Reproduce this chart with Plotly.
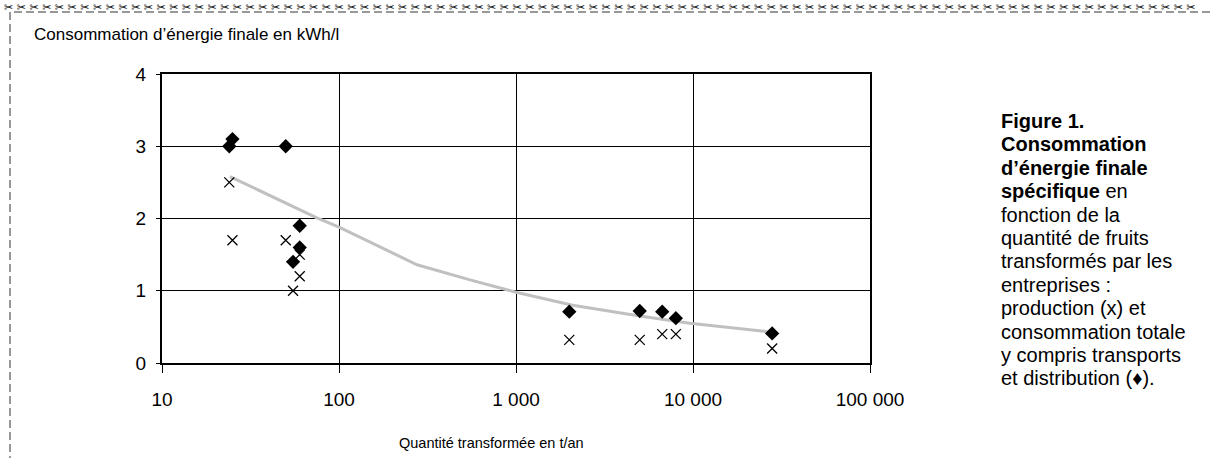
import plotly.graph_objects as go

# Data
total_x = [24, 25, 50, 60, 60, 55, 2000, 5000, 6700, 8000, 28000]
total_y = [3.0, 3.1, 3.0, 1.9, 1.6, 1.4, 0.71, 0.72, 0.71, 0.62, 0.41]
prod_x = [24, 25, 50, 60, 60, 55, 2000, 5000, 6700, 8000, 28000]
prod_y = [2.5, 1.7, 1.7, 1.5, 1.2, 1.0, 0.32, 0.32, 0.40, 0.40, 0.20]
trend_x = [24.2, 75, 100, 276, 550, 1000, 2090, 5000, 9600, 27200]
trend_y = [2.58, 2.01, 1.88, 1.36, 1.15, 0.98, 0.80, 0.65, 0.55, 0.43]

x_tickvals = [10, 100, 1000, 10000, 100000]
x_ticktext = ["10", "100", "1 000", "10 000", "100 000"]
y_tickvals = [0, 1, 2, 3, 4]

caption_lines = [
    "<b>Figure 1.</b>",
    "<b>Consommation</b>",
    "<b>d’énergie finale</b>",
    "<b>spécifique</b> en",
    "fonction de la",
    "quantité de fruits",
    "transformés par les",
    "entreprises :",
    "production (x) et",
    "consommation totale",
    "y compris transports",
    "et distribution (♦).",
]

W, H = 1212, 458
L, R, T, B = 162, 342, 74, 95
PW, PH = W - L - R, H - T - B

def px(x):
    return (x - L) / PW

def py(y):
    return (H - B - y) / PH

FONT = "Liberation Sans, Arial, sans-serif"

fig = go.Figure()
fig.add_trace(go.Scatter(x=trend_x, y=trend_y, mode="lines",
                         line=dict(color="#c0c0c0", width=3), hoverinfo="skip"))
fig.add_trace(go.Scatter(x=total_x, y=total_y, mode="markers",
                         marker=dict(symbol="diamond", size=11, color="black")))
fig.add_trace(go.Scatter(x=prod_x, y=prod_y, mode="markers",
                         marker=dict(symbol="x-thin-open", size=10, color="black",
                                     line=dict(color="black", width=1.3))))

fig.update_layout(
    width=W, height=H,
    margin=dict(l=L, r=R, t=T, b=B),
    paper_bgcolor="white", plot_bgcolor="white",
    showlegend=False,
    font=dict(family=FONT, size=16, color="black"),
    xaxis=dict(type="log", range=[1, 5], tickvals=x_tickvals, ticktext=x_ticktext,
               showgrid=True, gridcolor="black", gridwidth=1.3,
               showline=True, linecolor="black", linewidth=2, mirror=True,
               ticks="outside", ticklen=8, tickwidth=1.3, tickcolor="black",
               ticklabelstandoff=10, zeroline=False,
               tickfont=dict(family=FONT, size=19)),
    yaxis=dict(range=[0, 4], tickvals=y_tickvals,
               showgrid=True, gridcolor="black", gridwidth=1.3,
               showline=True, linecolor="black", linewidth=2, mirror=True,
               ticks="outside", ticklen=4, tickwidth=1.3, tickcolor="black",
               ticklabelstandoff=6, zeroline=False,
               tickfont=dict(family=FONT, size=19)),
)

# dashed cut-out frame
fig.add_shape(type="rect", xref="paper", yref="paper",
              x0=px(10), x1=px(1240), y0=py(480), y1=py(12),
              line=dict(color="#333333", width=1, dash="8px,4px"))

# scissors border on top
fig.add_annotation(xref="paper", yref="paper", x=px(2), y=py(7),
                   xanchor="left", yanchor="middle", showarrow=False,
                   text="\u00a0".join(["✂"] * 94),
                   font=dict(family="DejaVu Sans", size=11, color="black"))

# axis titles
fig.add_annotation(xref="paper", yref="paper", x=px(32), y=py(34),
                   xanchor="left", yanchor="middle", showarrow=False,
                   text="Consommation d’énergie finale en kWh/l",
                   font=dict(family=FONT, size=17))
fig.add_annotation(xref="paper", yref="paper", x=px(397), y=py(443),
                   xanchor="left", yanchor="middle", showarrow=False,
                   text="Quantité transformée en t/an",
                   font=dict(family=FONT, size=14.5))

for i, line in enumerate(caption_lines):
    fig.add_annotation(xref="paper", yref="paper", x=px(999), y=py(121 + 23.4 * i),
                       xanchor="left", yanchor="middle", showarrow=False, align="left",
                       text=line, font=dict(family=FONT, size=20))

fig.write_html("out.html", config={"displayModeBar": False},
               post_script="document.body.style.margin='0px';")
